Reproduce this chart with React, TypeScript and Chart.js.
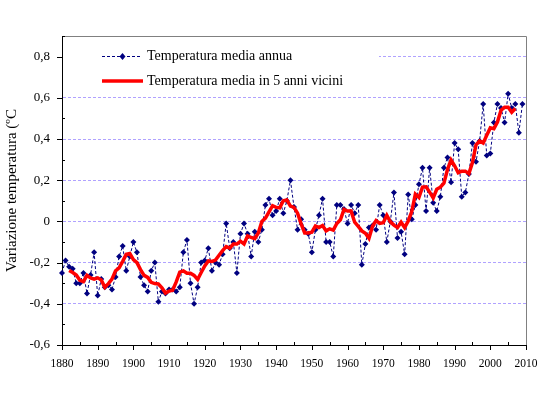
import React, { useEffect, useRef } from "react";
import { Chart, registerables } from "chart.js";

Chart.register(...registerables);

const firstYear = 1880;
const smoothFirstYear = 1882;

const annualValues = [
  -0.25, -0.19, -0.22, -0.23, -0.30, -0.30, -0.25, -0.35, -0.26, -0.15,
  -0.36, -0.28, -0.32, -0.31, -0.33, -0.27, -0.17, -0.12, -0.24, -0.17,
  -0.10, -0.15, -0.27, -0.31, -0.34, -0.24, -0.20, -0.39, -0.34, -0.35,
  -0.33, -0.33, -0.34, -0.32, -0.15, -0.09, -0.30, -0.40, -0.32, -0.20,
  -0.19, -0.13, -0.24, -0.20, -0.21, -0.16, -0.01, -0.13, -0.10, -0.25,
  -0.06, -0.01, -0.06, -0.17, -0.05, -0.10, -0.04, 0.08, 0.11, 0.03,
  0.05, 0.11, 0.04, 0.10, 0.20, 0.07, -0.04, 0.01, -0.04, -0.06,
  -0.15, -0.04, 0.03, 0.11, -0.10, -0.10, -0.17, 0.08, 0.08, 0.06,
  -0.01, 0.08, 0.04, 0.08, -0.21, -0.11, -0.03, -0.02, -0.04, 0.08,
  0.03, -0.10, 0.00, 0.14, -0.08, -0.05, -0.16, 0.13, 0.01, 0.08,
  0.18, 0.26, 0.05, 0.26, 0.09, 0.05, 0.12, 0.26, 0.31, 0.19,
  0.38, 0.35, 0.12, 0.14, 0.23, 0.38, 0.29, 0.39, 0.57, 0.32,
  0.33, 0.48, 0.57, 0.55, 0.48, 0.62, 0.55, 0.57, 0.43, 0.57,
];

// 1882 .. 2007
const smoothedValues = [
  -0.238, -0.248, -0.26, -0.286, -0.292, -0.262, -0.274, -0.28,
  -0.274, -0.284, -0.32, -0.302, -0.28, -0.24, -0.226, -0.194, -0.16, -0.156,
  -0.186, -0.2, -0.234, -0.262, -0.272, -0.296, -0.302, -0.304, -0.322, -0.348,
  -0.338, -0.334, -0.294, -0.246, -0.24, -0.252, -0.252, -0.262, -0.282, -0.248,
  -0.216, -0.192, -0.194, -0.188, -0.164, -0.142, -0.122, -0.13, -0.11, -0.11,
  -0.096, -0.11, -0.07, -0.078, -0.084, -0.056, 0.0, 0.016, 0.046, 0.076,
  0.068, 0.066, 0.1, 0.104, 0.074, 0.068, 0.04, -0.012, -0.056, -0.056,
  -0.052, -0.022, -0.03, -0.02, -0.046, -0.036, -0.042, -0.01, 0.008, 0.058,
  0.05, 0.05, -0.004, -0.024, -0.046, -0.058, -0.082, -0.024, 0.004, -0.01,
  -0.006, 0.03, -0.002, -0.018, -0.03, -0.004, -0.03, 0.002, 0.048, 0.132,
  0.116, 0.166, 0.168, 0.142, 0.114, 0.156, 0.166, 0.186, 0.252, 0.298,
  0.27, 0.236, 0.244, 0.244, 0.232, 0.286, 0.372, 0.39, 0.38, 0.418,
  0.454, 0.45, 0.482, 0.54, 0.554, 0.554, 0.53, 0.548,
];

const yTickValues = [-0.6, -0.4, -0.2, 0, 0.2, 0.4, 0.6, 0.8];
const seriesLabels = ["Temperatura media annua", "Temperatura media in 5 anni vicini"];
const yTitle = "Variazione temperatura (ºC";

const FONT = '"Liberation Serif", "Times New Roman", serif';
const NAVY = "#000080";
const RED = "#ff0000";
const GRID = "#b0a2ff";

const decorPlugin = {
  id: "decor",
  beforeDatasetsDraw(chart: any) {
    const { ctx, chartArea } = chart;
    ctx.save();
    ctx.strokeStyle = "#808080";
    ctx.lineWidth = 1;
    ctx.beginPath();
    ctx.moveTo(chartArea.left, chartArea.top + 0.5);
    ctx.lineTo(chartArea.right + 0.5, chartArea.top + 0.5);
    ctx.lineTo(chartArea.right + 0.5, chartArea.bottom);
    ctx.stroke();
    ctx.restore();
  },
  afterDraw(chart: any) {
    const { ctx, chartArea, scales } = chart;
    ctx.save();
    // axis tick marks: major outside, minor inside
    ctx.strokeStyle = "#000";
    ctx.lineWidth = 1;
    ctx.setLineDash([]);
    ctx.beginPath();
    for (let k = -6; k <= 9; k++) {
      const y = Math.round(scales.y.getPixelForValue(k / 10)) + 0.5;
      if (k % 2 === 0) {
        ctx.moveTo(chartArea.left - 5, y);
        ctx.lineTo(chartArea.left, y);
      } else {
        ctx.moveTo(chartArea.left, y);
        ctx.lineTo(chartArea.left + 3, y);
      }
    }
    for (let yr = 1880; yr <= 2010; yr += 5) {
      const x = Math.round(scales.x.getPixelForValue(yr)) + 0.5;
      if (yr % 10 === 0) {
        ctx.moveTo(x, chartArea.bottom);
        ctx.lineTo(x, chartArea.bottom + 5);
      } else {
        ctx.moveTo(x, chartArea.bottom);
        ctx.lineTo(x, chartArea.bottom - 3);
      }
    }
    ctx.stroke();

    // legend
    ctx.fillStyle = "#fff";
    ctx.fillRect(chartArea.left + 1, 41, 316, 51);
    const ds = chart.data.datasets;
    ctx.font = "14px " + FONT;
    ctx.textBaseline = "middle";
    ctx.textAlign = "left";
    ctx.strokeStyle = NAVY;
    ctx.lineWidth = 1;
    ctx.setLineDash([3, 2]);
    ctx.beginPath();
    ctx.moveTo(102, 56.5);
    ctx.lineTo(142, 56.5);
    ctx.stroke();
    ctx.setLineDash([]);
    ctx.fillStyle = NAVY;
    ctx.beginPath();
    ctx.moveTo(122.5, 53);
    ctx.lineTo(125.5, 56.5);
    ctx.lineTo(122.5, 60);
    ctx.lineTo(119.5, 56.5);
    ctx.closePath();
    ctx.fill();
    ctx.fillStyle = "#000";
    ctx.fillText(ds[0].label, 147, 56);
    ctx.strokeStyle = RED;
    ctx.lineWidth = 3.5;
    ctx.beginPath();
    ctx.moveTo(102, 81);
    ctx.lineTo(143, 81);
    ctx.stroke();
    ctx.fillStyle = "#000";
    ctx.fillText(ds[1].label, 147, 81);
    ctx.restore();
  },
};

export default function App() {
  const ref = useRef<HTMLCanvasElement>(null);
  useEffect(() => {
    const annualPoints = annualValues.map((v, i) => ({ x: firstYear + i, y: v }));
    const smoothPoints = smoothedValues.map((v, i) => ({ x: smoothFirstYear + i, y: v }));
    const chart = new Chart(ref.current as HTMLCanvasElement, {
      type: "line",
      data: {
        datasets: [
          {
            label: seriesLabels[0],
            data: annualPoints,
            borderColor: NAVY,
            backgroundColor: NAVY,
            borderWidth: 1,
            borderDash: [3, 2],
            pointStyle: "rectRot",
            pointRadius: 3,
            pointBackgroundColor: NAVY,
            pointBorderColor: NAVY,
            pointBorderWidth: 0,
            tension: 0,
            clip: 6,
            order: 1,
          },
          {
            label: seriesLabels[1],
            data: smoothPoints,
            borderColor: RED,
            backgroundColor: RED,
            borderWidth: 3.5,
            pointRadius: 0,
            tension: 0,
            order: 0,
          },
        ],
      },
      options: {
        responsive: false,
        animation: false,
        events: [],
        layout: { padding: { left: 0, right: 24, top: 36, bottom: 0 } },
        plugins: { legend: { display: false }, tooltip: { enabled: false } },
        scales: {
          x: {
            type: "linear",
            min: 1880,
            max: 2010,
            afterFit: (s: any) => { s.height = 49; },
            ticks: {
              stepSize: 10,
              padding: 12,
              maxRotation: 0,
              autoSkip: false,
              color: "#000",
              font: { family: FONT, size: 11.5 },
              callback: (v: any) => String(v),
            },
            grid: { display: true, color: "transparent", drawTicks: false },
            border: { display: true, color: "#000", width: 1 },
          },
          y: {
            type: "linear",
            min: -0.6,
            max: 0.9,
            afterFit: (s: any) => { s.width = 62; },
            afterBuildTicks: (s: any) => { s.ticks = yTickValues.map((v) => ({ value: v })); },
            ticks: {
              padding: 12,
              color: "#000",
              font: { family: FONT, size: 13 },
              callback: (v: any) => String(Math.round(Number(v) * 10) / 10).replace(".", ","),
            },
            grid: {
              drawTicks: false,
              lineWidth: 1,
              color: (c: any) => (c.tick && Math.abs(c.tick.value + 0.6) < 1e-6 ? "transparent" : GRID),
            },
            border: { display: true, color: "#000", width: 1, dash: [3, 2] },
            title: {
              display: true,
              text: yTitle,
              color: "#000",
              font: { family: FONT, size: 15 },
              padding: { top: 3, bottom: 0 },
            },
          },
        },
      },
      plugins: [decorPlugin],
    } as any);
    return () => chart.destroy();
  }, []);
  return (
    <canvas
      ref={ref}
      width={550}
      height={394}
      style={{ position: "absolute", left: 0, top: 0, width: 550, height: 394, background: "#fff" }}
    />
  );
}
